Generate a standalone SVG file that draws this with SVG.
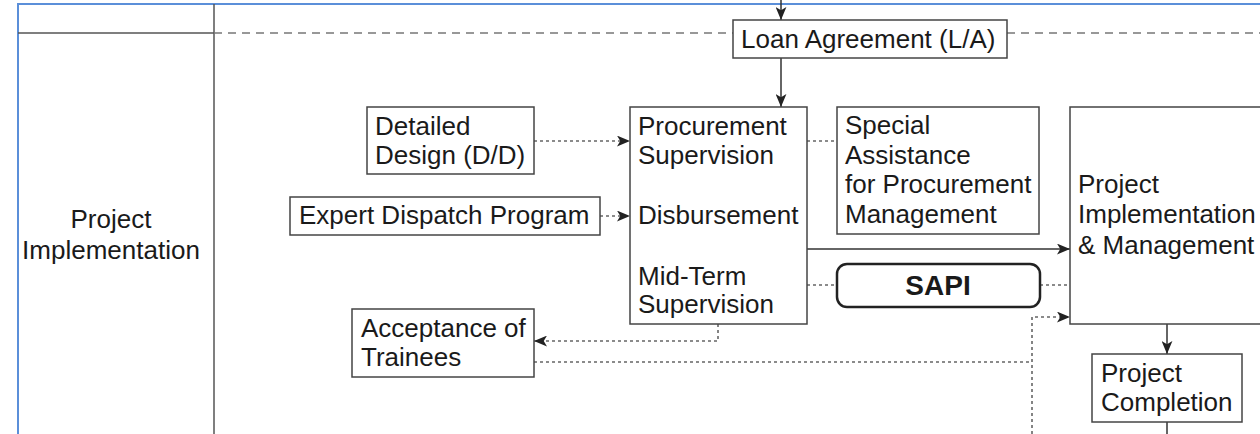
<svg xmlns="http://www.w3.org/2000/svg" width="1260" height="434" viewBox="0 0 1260 434">
<style>
text{font-family:"Liberation Sans",Arial,sans-serif;font-size:26px;fill:#1a1a1a}
.box{fill:#fff;stroke:#444;stroke-width:1.5}
.solid{fill:none;stroke:#333;stroke-width:1.5}
.dot{fill:none;stroke:#666;stroke-width:1.6;stroke-dasharray:3 3}
.dash{fill:none;stroke:#777;stroke-width:1.6;stroke-dasharray:8 6}
.grid{fill:none;stroke:#555;stroke-width:1.5}
</style>
<defs>
<marker id="ah" viewBox="0 0 12 10" refX="12" refY="5" markerWidth="13" markerHeight="11" markerUnits="userSpaceOnUse" orient="auto">
<path d="M0,0 L12,5 L0,10 L3,5 z" fill="#222"/>
</marker>
</defs>
<rect width="1260" height="434" fill="#fff"/>
<g id="frame">
<path d="M18,434 V4 H1260" fill="none" stroke="#5b8fd9" stroke-width="2"/>
<line class="grid" x1="214" y1="4" x2="214" y2="434"/>
<line class="grid" x1="18" y1="33" x2="214" y2="33"/>
<text x="111" y="228" text-anchor="middle">Project</text>
<text x="111" y="259" text-anchor="middle">Implementation</text>
</g>
<g id="connectors">
<line class="dash" x1="214" y1="33" x2="733" y2="33"/>
<line class="dash" x1="1007" y1="33" x2="1260" y2="33"/>
<line class="solid" x1="781" y1="0" x2="781" y2="20" marker-end="url(#ah)"/>
<line class="solid" x1="781" y1="58" x2="781" y2="107" marker-end="url(#ah)"/>
<line class="dot" x1="534" y1="141" x2="630" y2="141" marker-end="url(#ah)"/>
<line class="dot" x1="600" y1="216" x2="630" y2="216" marker-end="url(#ah)"/>
<line class="dot" x1="807" y1="141" x2="837" y2="141"/>
<line class="solid" x1="807" y1="249" x2="1070" y2="249" marker-end="url(#ah)"/>
<line class="dot" x1="807" y1="285" x2="837" y2="285"/>
<line class="dot" x1="1040" y1="285" x2="1070" y2="285"/>
<path class="dot" d="M718,324 V341 H534" marker-end="url(#ah)"/>
<path class="dot" d="M534,362 H1032"/>
<path class="dot" d="M1032,434 V317 H1070" marker-end="url(#ah)"/>
<line class="solid" x1="1167" y1="324" x2="1167" y2="354" marker-end="url(#ah)"/>
<line class="solid" x1="1167" y1="422" x2="1167" y2="434"/>
</g>
<g id="loan-agreement">
<rect class="box" x="733" y="20" width="274" height="38"/>
<text x="741" y="48">Loan Agreement (L/A)</text>
</g>
<g id="detailed-design">
<rect class="box" x="367" y="107" width="167" height="67"/>
<text x="375" y="135">Detailed</text>
<text x="375" y="164">Design (D/D)</text>
</g>
<g id="expert-dispatch">
<rect class="box" x="290" y="197" width="310" height="38"/>
<text x="299" y="224">Expert Dispatch Program</text>
</g>
<g id="procurement">
<rect class="box" x="630" y="107" width="177" height="217"/>
<text x="638" y="135">Procurement</text>
<text x="638" y="164">Supervision</text>
<text x="638" y="224">Disbursement</text>
<text x="638" y="285">Mid-Term</text>
<text x="638" y="313">Supervision</text>
</g>
<g id="special-assistance">
<rect class="box" x="837" y="107" width="202" height="127"/>
<text x="845" y="134">Special</text>
<text x="845" y="164">Assistance</text>
<text x="845" y="193">for Procurement</text>
<text x="845" y="223">Management</text>
</g>
<g id="sapi">
<rect x="837" y="264" width="203" height="43" rx="10" fill="#fff" stroke="#222" stroke-width="2.5"/>
<text x="938" y="295" text-anchor="middle" style="font-weight:bold;font-size:28px">SAPI</text>
</g>
<g id="project-implementation-management">
<rect class="box" x="1070" y="107" width="200" height="217"/>
<text x="1078" y="193">Project</text>
<text x="1078" y="223">Implementation</text>
<text x="1078" y="254">&amp; Management</text>
</g>
<g id="acceptance-trainees">
<rect class="box" x="352" y="309" width="182" height="68"/>
<text x="361" y="337">Acceptance of</text>
<text x="361" y="366">Trainees</text>
</g>
<g id="project-completion">
<rect class="box" x="1092" y="354" width="150" height="68"/>
<text x="1101" y="382">Project</text>
<text x="1101" y="411">Completion</text>
</g>
</svg>
